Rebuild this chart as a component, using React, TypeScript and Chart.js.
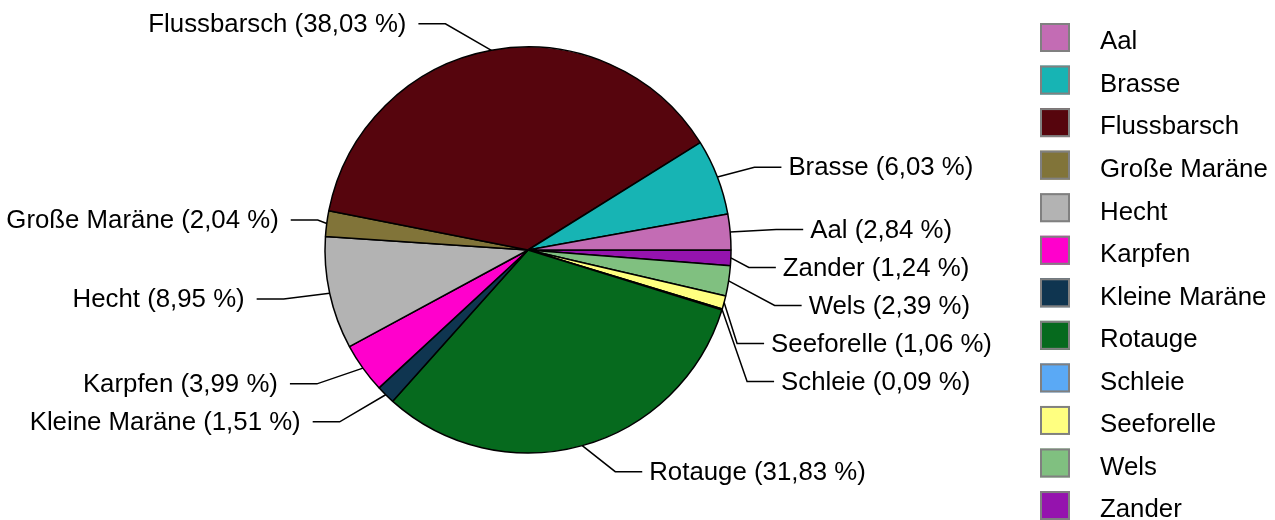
import React, { useEffect, useRef } from "react";
import { Chart, registerables } from "chart.js";

Chart.register(...registerables);

// ---- data (alphabetical, as in the legend) ----
const categories = [
  "Aal",
  "Brasse",
  "Flussbarsch",
  "Große Maräne",
  "Hecht",
  "Karpfen",
  "Kleine Maräne",
  "Rotauge",
  "Schleie",
  "Seeforelle",
  "Wels",
  "Zander",
];
const shares = [2.84, 6.03, 38.03, 2.04, 8.95, 3.99, 1.51, 31.83, 0.09, 1.06, 2.39, 1.24];
const colors = [
  "#C36CB4",
  "#17B4B4",
  "#56050D",
  "#817439",
  "#B3B3B3",
  "#FF00CC",
  "#0F3550",
  "#066A1E",
  "#5AA9F5",
  "#FFFF80",
  "#80C080",
  "#9513AE",
];

// ---- label layout (annotation styling) ----
const leaderReach = [46, 37, 46, 9, 46, 46, 46, 33, 25, 13, 46, 18];
const FONT = "25.8px 'Liberation Sans', Arial, sans-serif";
const LABEL_GAP = 38;
const LABEL_RADIUS_EXTRA = 27;
const HLINE = 27;
const TEXT_OFFSET_RIGHT = 34;
const TEXT_OFFSET_LEFT = 39;

const fmt = (v: number) => `${v.toFixed(2).replace(".", ",")} %`;

const outerLabels = {
  id: "outerLabels",
  afterDraw(chart: any) {
    const ctx: CanvasRenderingContext2D = chart.ctx;
    const meta = chart.getDatasetMeta(0);
    const n = categories.length;
    const items = categories.map((name, i) => {
      const arc = meta.data[n - 1 - i];
      const p = arc.getProps(["x", "y", "startAngle", "endAngle", "outerRadius"], true);
      const mid = (p.startAngle + p.endAngle) / 2;
      const c = Math.cos(mid);
      const s = Math.sin(mid);
      return {
        i,
        name,
        ex: p.x + p.outerRadius * c,
        ey: p.y + p.outerRadius * s,
        right: c >= 0,
        y: p.y + (p.outerRadius + LABEL_RADIUS_EXTRA) * s,
      };
    });
    for (const side of [true, false]) {
      const g = items.filter((it) => it.right === side).sort((a, b) => a.y - b.y);
      for (let k = 1; k < g.length; k++) {
        if (g[k].y < g[k - 1].y + LABEL_GAP) g[k].y = g[k - 1].y + LABEL_GAP;
      }
    }
    ctx.save();
    ctx.strokeStyle = "#000";
    ctx.lineWidth = 1.5;
    ctx.fillStyle = "#000";
    ctx.font = FONT;
    ctx.textBaseline = "middle";
    for (const it of items) {
      const dir = it.right ? 1 : -1;
      const bx = it.ex + dir * leaderReach[it.i];
      ctx.beginPath();
      ctx.moveTo(it.ex, it.ey);
      ctx.lineTo(bx, it.y);
      ctx.lineTo(bx + dir * HLINE, it.y);
      ctx.stroke();
      ctx.textAlign = it.right ? "left" : "right";
      const off = it.right ? TEXT_OFFSET_RIGHT : TEXT_OFFSET_LEFT;
      ctx.fillText(`${it.name} (${fmt(shares[it.i])})`, bx + dir * off, it.y + 1);
    }
    // legend
    ctx.textAlign = "left";
    ctx.textBaseline = "alphabetic";
    categories.forEach((name, i) => {
      const top = 23 + i * 42.55;
      ctx.fillStyle = colors[i];
      ctx.fillRect(1040, top, 30, 29);
      ctx.strokeStyle = "#808080";
      ctx.lineWidth = 2;
      ctx.strokeRect(1041, top + 1, 28, 27);
      ctx.fillStyle = "#000";
      ctx.fillText(name, 1100, top + 26.3);
    });
    ctx.restore();
  },
};

export default function App() {
  const ref = useRef<HTMLCanvasElement | null>(null);
  useEffect(() => {
    document.body.style.margin = "0";
    const canvas = ref.current!;
    const rev = <T,>(a: T[]) => a.slice().reverse();
    const chart = new Chart(canvas, {
      type: "pie",
      data: {
        labels: rev(categories),
        datasets: [
          {
            data: rev(shares),
            backgroundColor: rev(colors),
            borderColor: "#000",
            borderWidth: 1.5,
            radius: 203,
          } as any,
        ],
      },
      options: {
        responsive: false,
        animation: false,
        devicePixelRatio: 1,
        rotation: 90,
        layout: { padding: { left: 0, top: 0, right: 219, bottom: 20 } },
        plugins: {
          legend: { display: false },
          tooltip: { enabled: false },
        },
      } as any,
      plugins: [outerLabels],
    });
    return () => chart.destroy();
  }, []);
  return (
    <div style={{ width: 1275, height: 520, background: "#fff" }}>
      <canvas ref={ref} width={1275} height={520} style={{ display: "block" }} />
    </div>
  );
}
